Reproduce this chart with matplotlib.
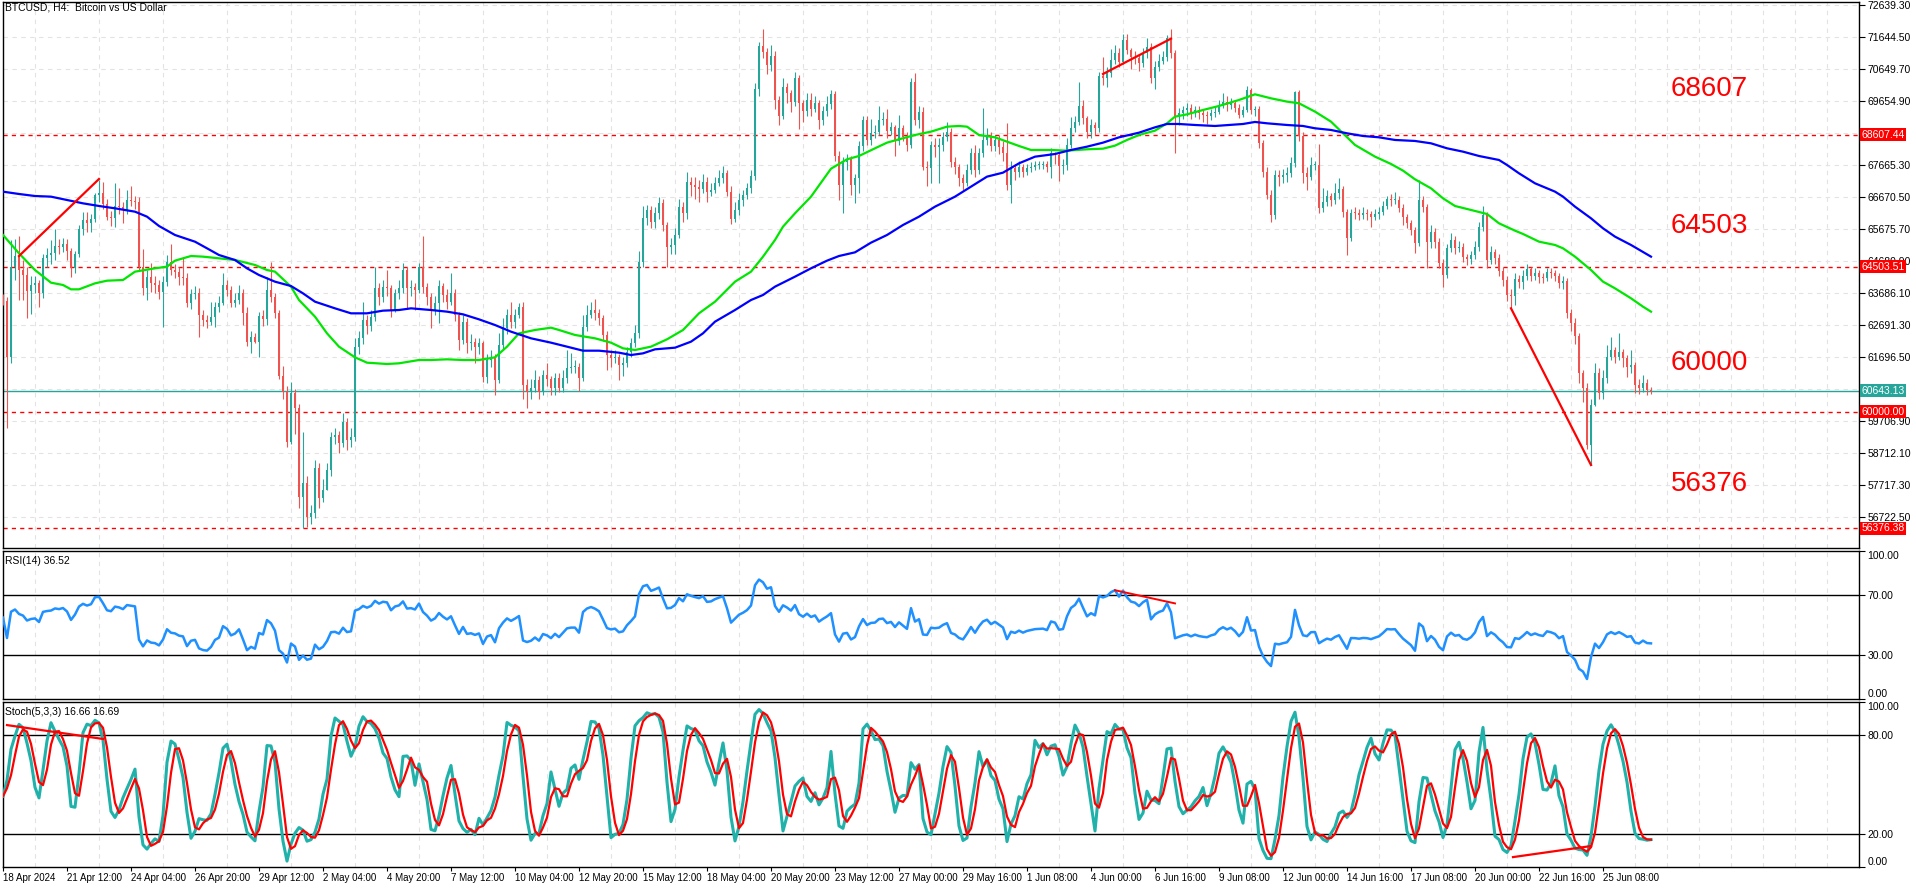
import numpy as np
import pandas as pd
import matplotlib
matplotlib.use('Agg')
import matplotlib.pyplot as plt
from matplotlib.transforms import blended_transform_factory

# ---- BTCUSD H4 candles (18 Apr 2024 .. 25 Jun 2024) ----
first_open = 63500
close = [
    63450, 61706, 64504, 64836, 64400, 64245, 63760, 63930, 63990, 63675,
    64764, 64865, 64920, 65150, 65106, 65210, 65002, 64453, 64898, 65665,
    65955, 65852, 65986, 66733, 66785, 66453, 66060, 66007, 66390, 66350,
    66266, 66577, 66546, 66520, 64504, 63830, 64194, 63986, 63935, 63727,
    64040, 64660, 64400, 64350, 64190, 64140, 63385, 63655, 63700, 63000,
    62846, 62795, 62950, 63260, 63365, 63935, 63780, 63385, 63470, 63675,
    63054, 62173, 62330, 62173, 62970, 62867, 63780, 63572, 63054, 61105,
    60618, 59064, 60567, 60100, 57355, 57770, 56732, 56836, 58235, 57302,
    57560, 58183, 59220, 59270, 59012, 59686, 59116, 59200, 62017, 62277,
    62846, 62660, 62950, 63830, 63572, 63883, 63830, 63157, 63676, 63830,
    64401, 63830, 63883, 63780, 64505, 63862, 63572, 63157, 63365, 63904,
    63624, 63416, 63696, 63002, 62225, 62795, 62121, 62173, 62018, 62121,
    61085, 61603, 61707, 60981, 62069, 62588, 63002, 62795, 63002, 63240,
    60826, 60619, 60722, 60981, 60619, 61137, 61000, 60722, 61033, 60722,
    61033, 61344, 61396, 61396, 61033, 62639, 63002, 63157, 63054, 62899,
    62381, 61759, 61655, 61707, 61448, 61500, 61862, 62121, 62432, 64660,
    66007, 66266, 65904, 66163, 66474, 65800, 65126, 65178, 65489, 66370,
    66163, 67147, 67044, 66971, 66909, 67147, 66836, 66888, 67116, 67272,
    67406, 66836, 65976, 66266, 66578, 66733, 66940, 67323, 70018, 71365,
    71189, 70774, 71054, 69686, 69189, 70080, 69893, 69634, 70360, 69582,
    69350, 69700, 69420, 69580, 69064, 69330, 69560, 69873, 67945, 67044,
    67769, 67842, 67044, 67251, 68256, 69064, 68443, 68670, 68702, 69064,
    69106, 68733, 68836, 68422, 68805, 68546, 68287, 70256, 69064, 69323,
    67614, 67562, 68287, 68235, 68287, 68546, 68702, 67769, 67614, 67251,
    67095, 67510, 68028, 67510, 68028, 68443, 68598, 68256, 68443, 68235,
    68028, 67044, 67562, 67458, 67614, 67458, 67562, 67614, 67665, 67680,
    67690, 67614, 68028, 67976, 67635, 67665, 68287, 68805, 69012, 69500,
    69116, 68702, 68909, 68805, 70432, 70360, 70515, 70930, 71158, 70878,
    71551, 71240, 71033, 70982, 70826, 71137, 71344, 70360, 70722, 70909,
    71013, 71603, 71137, 69168, 69272, 69375, 69427, 69272, 69375, 69272,
    69220, 69190, 69272, 69323, 69531, 69634, 69531, 69600, 69450, 69220,
    69376, 69997, 69376, 69396, 68339, 67459, 66733, 66111, 67355, 67282,
    67355, 67407, 67717, 69946, 68568, 67407, 67300, 67666, 67680, 66319,
    66526, 66702, 66578, 66785, 66909, 66215, 65386, 66184, 66170, 66111,
    66163, 66142, 66059, 66142, 66215, 66391, 66598, 66578, 66590, 66319,
    66059, 65852, 65645, 65251, 66578, 66371, 65282, 65593, 65282, 64609,
    64246, 65075, 65334, 65075, 65120, 64816, 64733, 64868, 65127, 65749,
    66111, 64712, 64971, 64764, 64381, 64091, 63624, 63600, 64111, 64039,
    64215, 64422, 64215, 64298, 64194, 64142, 64350, 64298, 64215, 63990,
    64069, 63054, 62743, 62349, 61189, 60723, 58950, 60205, 61189, 60567,
    61033, 61707, 61914, 61707, 61862, 61655, 61396, 61448, 60826, 60723,
    60898, 60671, 60643,
]
high = [
    63650, 63550, 65330, 65350, 65458, 64700, 64500, 64200, 64200, 64100,
    64890, 65100, 65333, 65676, 65380, 65400, 65354, 65100, 65000, 65800,
    66215, 66215, 66150, 66800, 67199, 67147, 66600, 66250, 67095, 66940,
    66500, 66888, 67013, 66700, 66680, 65044, 64400, 64630, 64200, 64100,
    64200, 64867, 65210, 64600, 64500, 64791, 64300, 63800, 63900, 63850,
    63150, 63000, 63416, 63400, 63600, 64297, 64100, 63900, 63700, 63935,
    63800, 63260, 62500, 62450, 63100, 63150, 64193, 64640, 63700, 63157,
    61417, 60800, 60930, 60700, 60235, 59374, 58000, 57100, 58494, 58400,
    57900, 58400, 59374, 59500, 59400, 59945, 59800, 59500, 62300, 62500,
    63400, 63000, 63150, 64505, 64000, 64100, 64400, 63950, 63800, 64100,
    64610, 64500, 64100, 64000, 64610, 65458, 64000, 63700, 63600, 64100,
    64000, 63800, 64297, 63800, 63100, 63000, 62900, 62400, 62300, 62300,
    62200, 61800, 61900, 61800, 62432, 62900, 63200, 63416, 63200, 63380,
    63416, 61000, 61000, 61290, 61100, 61300, 61500, 61100, 61200, 61200,
    61300, 61900, 61810, 61600, 61500, 63000, 63300, 63416, 63500, 63200,
    63000, 62500, 61900, 61900, 61800, 61700, 62000, 62300, 62700, 65000,
    66400, 66420, 66400, 66350, 66680, 66600, 65900, 65400, 65700, 66600,
    66500, 67458, 67300, 67300, 67200, 67400, 67300, 67100, 67300, 67500,
    67634, 67500, 67000, 66500, 66800, 66900, 67100, 67500, 70200, 71500,
    71883, 71300, 71400, 71200, 69800, 70360, 70200, 70000, 70567, 70450,
    69700, 69900, 69900, 69800, 69700, 69500, 69800, 70000, 69976, 68100,
    67900, 68000, 67950, 67400, 68400, 69189, 69200, 69100, 68900, 69500,
    69300, 69400, 69000, 68900, 69220, 68900, 68700, 70360, 70515, 69500,
    69479, 67800, 68400, 68500, 68500, 68700, 69000, 68800, 67900, 67700,
    67400, 67700, 68200, 68300, 68200, 69427, 68800, 68700, 68600, 68600,
    68400, 68961, 67800, 67700, 67800, 67700, 67700, 67750, 67800, 67800,
    67800, 67800, 68200, 68080, 68050, 67850, 68500, 69147, 69200, 70256,
    69686, 69200, 69100, 69000, 70550, 71013, 70700, 71261, 71400, 71300,
    71727, 71738, 71300, 71200, 71100, 71300, 71603, 71450, 70900, 71100,
    71200, 71700, 71883, 71250, 69450, 69500, 69600, 69550, 69500, 69500,
    69400, 69350, 69400, 69500, 69700, 69900, 69800, 69750, 69700, 69550,
    69500, 70122, 70049, 69500, 69500, 68450, 67600, 66900, 67500, 67500,
    67550, 67600, 67900, 69977, 70000, 68700, 67600, 67925, 67800, 68319,
    66940, 66900, 66800, 67096, 67251, 67000, 66300, 66300, 66350, 66300,
    66350, 66300, 66250, 66300, 66350, 66550, 66702, 66750, 66836, 66700,
    66450, 66150, 65950, 65750, 67200, 66700, 66450, 65800, 65700, 65400,
    64750, 65200, 65541, 65450, 65300, 65250, 64900, 65000, 65300, 65900,
    66391, 66215, 65150, 65050, 64900, 64500, 64200, 63800, 64300, 64250,
    64400, 64600, 64500, 64450, 64400, 64300, 64454, 64450, 64400, 64300,
    64200, 64150, 63200, 62900, 62450, 61300, 60900, 60400, 61500, 61344,
    61300, 62069, 62330, 62000, 62432, 61950, 61750, 61914, 61550, 61000,
    61137, 61000, 60750,
]
low = [
    63300, 59478, 61500, 64100, 63468, 63470, 62900, 63020, 63700, 63240,
    63520, 64500, 64600, 64700, 64900, 64950, 64713, 64195, 64300, 64800,
    65500, 65593, 65593, 65900, 66500, 66300, 65955, 65770, 65748, 66150,
    65872, 66150, 66400, 66300, 64400, 63624, 63470, 63727, 63700, 63500,
    62640, 63900, 64250, 64150, 63950, 63950, 63240, 63190, 63500, 62308,
    62650, 62598, 62700, 62640, 63100, 63300, 63600, 63240, 63250, 63350,
    62691, 62050, 61830, 62120, 61685, 62650, 62700, 63400, 62900, 61000,
    60400, 58900, 59000, 59300, 57000, 56370, 56400, 56500, 56700, 57000,
    57200, 57600, 58000, 59000, 58700, 58900, 58805, 58900, 59100, 61800,
    62100, 62400, 62500, 62800, 63300, 63400, 63600, 62950, 63100, 63500,
    63700, 63200, 63600, 63150, 63700, 63700, 63300, 62588, 63000, 62743,
    63400, 63200, 63300, 62800, 61900, 62100, 61810, 61900, 61500, 61800,
    60930, 60900, 61400, 60500, 60900, 61900, 62400, 62600, 62600, 62900,
    60400, 60100, 60400, 60600, 60400, 60500, 60800, 60500, 60500, 60600,
    60600, 60900, 61200, 61200, 60640, 60950, 62500, 62900, 62850, 62700,
    62200, 61289, 61400, 61500, 60981, 61100, 61400, 61700, 62000, 62300,
    64500, 65800, 65700, 65700, 66000, 65600, 64505, 64900, 64900, 65400,
    65900, 66000, 66700, 66600, 66500, 66800, 66526, 66700, 66800, 67000,
    67100, 66700, 65830, 65900, 66100, 66400, 66600, 66800, 67200, 69800,
    71000, 70500, 70600, 69400, 68909, 69100, 69600, 69300, 69500, 68780,
    69000, 69200, 69200, 69300, 68780, 68900, 69200, 69400, 67800, 66578,
    66163, 67500, 66733, 66494, 66785, 68100, 68300, 68300, 68500, 68600,
    68900, 68500, 68600, 67945, 68300, 68400, 68100, 68200, 68900, 68800,
    67500, 67000, 67095, 67900, 67095, 68100, 68400, 67600, 67400, 67000,
    66900, 67000, 67400, 67300, 67400, 67900, 68300, 68100, 68100, 68000,
    67800, 66900, 66494, 67200, 67300, 67300, 67350, 67450, 67500, 67550,
    67550, 67450, 67251, 67700, 67180, 67400, 67500, 68200, 68700, 68900,
    68950, 68500, 68500, 68600, 68700, 70150, 70080, 70400, 70800, 70700,
    70800, 71100, 70640, 70800, 70600, 70700, 71000, 70200, 70018, 70600,
    70800, 70900, 71000, 68028, 68900, 69100, 69200, 69100, 69150, 69100,
    69000, 68950, 69050, 69150, 69250, 69450, 69350, 69400, 69300, 69117,
    69150, 69300, 69250, 69200, 68200, 67300, 66600, 65904, 66000, 67000,
    67100, 67150, 67300, 67600, 68400, 67096, 66888, 67200, 67500, 66163,
    66200, 66400, 66400, 66450, 66600, 66050, 64868, 65300, 66000, 65950,
    66000, 65950, 65749, 65950, 66000, 66100, 66300, 66400, 66450, 66200,
    65800, 65700, 65500, 64920, 65150, 66200, 64454, 65100, 65100, 64450,
    63883, 64150, 64950, 64900, 64950, 64650, 64557, 64600, 64750, 65000,
    65600, 64454, 64600, 64600, 64200, 63900, 63450, 63209, 63313, 63850,
    63800, 64100, 64050, 64100, 64000, 64000, 64050, 64150, 64050, 63850,
    63800, 62900, 62500, 62100, 60900, 60300, 58850, 58350, 60180, 60400,
    60400, 60900, 61600, 61500, 61600, 61400, 61085, 61200, 60567, 60550,
    60600, 60516, 60550,
]

# moving averages as drawn on the chart (bar index, price)
ma_green_x = [0, 4, 8, 12, 15, 17, 19, 23, 26, 30, 33, 38, 41, 43, 47, 50, 54, 58, 63, 66,
              68, 72, 74, 78, 81, 84, 88, 91, 96, 99, 104, 107, 111, 115, 119, 123, 126, 129, 133, 137,
              139, 143, 148, 152, 155, 158, 162, 166, 170, 174, 178, 183, 187, 190, 193, 195, 198, 202, 207, 211,
              214, 218, 221, 224, 228, 232, 236, 239, 241, 244, 248, 251, 254, 257, 262, 266, 271, 275, 278, 281,
              284, 288, 291, 293, 296, 300, 304, 309, 313, 317, 321, 324, 328, 332, 335, 338, 343, 347, 350, 353,
              357, 360, 363, 367, 371, 374, 378, 380, 384, 388, 390, 393, 397, 400, 403, 407, 410, 412]
ma_green_y = [65489, 64919, 64400, 64007, 63935, 63800, 63800, 63986, 64069, 64090,
              64349, 64453, 64505, 64691, 64836, 64816, 64764, 64712, 64557, 64400,
              64350, 63883, 63468, 62950, 62432, 62017, 61686, 61520, 61479, 61500,
              61603, 61603, 61624, 61603, 61603, 61686, 62018, 62432, 62536, 62608,
              62536, 62381, 62277, 62142, 61966, 61914, 62018, 62246, 62536, 63054,
              63416, 64038, 64349, 64815, 65334, 65748, 66163, 66681, 67550, 67842,
              67945, 68184, 68360, 68463, 68598, 68702, 68857, 68878, 68857, 68598,
              68525, 68391, 68256, 68132, 68132, 68111, 68153, 68173, 68267, 68443,
              68598, 68733, 68961, 69168, 69240, 69375, 69500, 69686, 69863, 69738,
              69635, 69583, 69324, 69013, 68650, 68288, 67925, 67697, 67490, 67220,
              66940, 66629, 66391, 66267, 66142, 65852, 65624, 65521, 65282, 65179,
              65075, 64816, 64401, 64039, 63831, 63521, 63261, 63106]
ma_blue_x = [0, 4, 8, 12, 16, 20, 24, 28, 33, 36, 39, 43, 48, 51, 54, 58, 61, 64, 68, 72,
             75, 78, 83, 87, 91, 95, 99, 102, 107, 111, 115, 119, 123, 127, 132, 137, 141, 145, 149, 154,
             157, 160, 163, 168, 172, 175, 178, 183, 187, 190, 193, 198, 202, 206, 209, 213, 217, 221, 225, 229,
             233, 238, 242, 246, 250, 254, 258, 263, 267, 271, 275, 279, 284, 288, 291, 294, 298, 303, 310, 313,
             316, 321, 325, 328, 332, 336, 340, 344, 348, 353, 357, 361, 365, 369, 374, 376, 379, 383, 388, 390,
             393, 397, 400, 403, 407, 412]
ma_blue_y = [66836, 66764, 66701, 66681, 66577, 66473, 66391, 66318, 66214, 66059,
             65769, 65489, 65281, 65075, 64867, 64712, 64453, 64245, 64038, 63903,
             63675, 63416, 63209, 63054, 63054, 63137, 63157, 63209, 63157, 63106,
             63023, 62867, 62691, 62484, 62277, 62142, 62018, 61893, 61893, 61831,
             61758, 61810, 61935, 61986, 62173, 62432, 62795, 63157, 63468, 63624,
             63883, 64194, 64453, 64691, 64836, 64950, 65251, 65489, 65800, 66059,
             66370, 66681, 66992, 67303, 67427, 67717, 67924, 68007, 68132, 68235,
             68360, 68525, 68670, 68836, 68940, 68940, 68909, 68878, 68940, 69003,
             68961, 68909, 68878, 68806, 68754, 68650, 68567, 68526, 68443, 68412,
             68339, 68184, 68080, 67945, 67821, 67666, 67407, 67096, 66837, 66681,
             66370, 66008, 65697, 65438, 65179, 64816]

levels = [68607.44, 64503.51, 60000.00, 56376.38]
level_names = ['68607', '64503', '60000', '56376']
last_price = 60643.13

# hand-drawn divergence lines: (bar0, value0, bar1, value1)
price_div = [(4, 64836, 24, 67230), (275, 70494, 292, 71593), (377, 63210, 397, 58339)]
rsi_div = [(278, 73.5, 293, 64.6)]
stoch_div = [(1, 86, 25, 77.6), (377.5, 6, 397, 12.7)]

price_ticks = [56722.50, 57717.30, 58712.10, 59706.90, 60701.70, 61696.50, 62691.30, 63686.10,
               64680.90, 65675.70, 66670.50, 67665.30, 68660.10, 69654.90, 70649.70, 71644.50, 72639.30]
# tick labels that sit under the level boxes on the price scale
hidden_ticks = [60701.70, 68660.10]
date_labels = ['18 Apr 2024', '21 Apr 12:00', '24 Apr 04:00', '26 Apr 20:00', '29 Apr 12:00',
               '2 May 04:00', '4 May 20:00', '7 May 12:00', '10 May 04:00', '12 May 20:00',
               '15 May 12:00', '18 May 04:00', '20 May 20:00', '23 May 12:00', '27 May 00:00',
               '29 May 16:00', '1 Jun 08:00', '4 Jun 00:00', '6 Jun 16:00', '9 Jun 08:00',
               '12 Jun 00:00', '14 Jun 16:00', '17 Jun 08:00', '20 Jun 00:00', '22 Jun 16:00',
               '25 Jun 08:00']
# RSI average gain / loss carried in from the bars before the window
rsi_seed = (238.0, 195.0)

UP, DOWN = '#26a69a', '#ef5350'

plt.rcParams['font.family'] = ['Liberation Sans', 'DejaVu Sans']
plt.rcParams['font.size'] = 7.5

W, H = 1916, 888
fig = plt.figure(figsize=(W / 100, H / 100), dpi=100)


def box(x0, y0, x1, y1):
    return [x0 / W, 1 - y1 / H, (x1 - x0) / W, (y1 - y0) / H]


ax_p = fig.add_axes(box(3, 2, 1859, 548))
ax_r = fig.add_axes(box(3, 551, 1859, 699), sharex=ax_p)
ax_s = fig.add_axes(box(3, 702, 1859, 867), sharex=ax_p)

c = np.array(close, dtype=float)
o = np.r_[first_open, c[:-1]]
hi = np.maximum(np.array(high, dtype=float), np.maximum(o, c))
lo = np.minimum(np.array(low, dtype=float), np.minimum(o, c))
x = np.arange(len(c))
cols = np.where(c >= o, UP, DOWN)

grid_kw = dict(color='#e3e3e3', linestyle=(0, (4, 4)), linewidth=0.8)

for ax in (ax_p, ax_r, ax_s):
    for s in ax.spines.values():
        s.set_color('black')
        s.set_linewidth(1)
    ax.yaxis.tick_right()
    ax.tick_params(axis='y', direction='out', length=4, pad=2, labelsize=7.5, width=0.8)
    ax.set_xlim(0, 464)
    ax.set_xticks(np.arange(0, 465, 8), minor=True)
    ax.grid(axis='x', which='minor', **grid_kw)
    ax.set_axisbelow(True)

# ---- price panel ----
ax_p.vlines(x, lo, hi, colors=cols, linewidth=0.8, zorder=3)
ax_p.bar(x, np.maximum(np.abs(c - o), 25), bottom=np.minimum(o, c), width=0.72,
         color=cols, linewidth=0, zorder=4)
ax_p.plot(ma_green_x, ma_green_y, color='#00e600', lw=1.6, zorder=5)
ax_p.plot(ma_blue_x, ma_blue_y, color='#0000ff', lw=1.6, zorder=5)
for v in levels:
    ax_p.axhline(v, color='red', lw=1, linestyle=(0, (3, 3)), zorder=2)
ax_p.axhline(last_price, color=UP, lw=1, zorder=2)
for x0, y0, x1, y1 in price_div:
    ax_p.plot([x0, x1], [y0, y1], color='red', lw=1.6, zorder=6)

ax_p.set_ylim(55759, 72732)
ax_p.set_yticks(price_ticks)
ax_p.set_yticklabels(['' if v in hidden_ticks else f'{v:.2f}' for v in price_ticks])
ax_p.grid(axis='y', **grid_kw)
ax_p.tick_params(axis='x', which='both', length=0, labelbottom=False)

trans = blended_transform_factory(ax_p.transAxes, ax_p.transData)
for v in levels:
    ax_p.text(1.0012, v, f'{v:.2f}', transform=trans, ha='left', va='center', color='white',
              fontsize=7.5, zorder=10, clip_on=False,
              bbox=dict(boxstyle='square,pad=0.15', fc='red', ec='none'))
ax_p.text(1.0012, last_price, f'{last_price:.2f}', transform=trans, ha='left', va='center',
          color='white', fontsize=7.5, zorder=10, clip_on=False,
          bbox=dict(boxstyle='square,pad=0.15', fc=UP, ec='none'))

# big level captions on the right of the price panel
for name, ypix in zip(level_names, [89, 226, 363, 484]):
    fig.text(1671 / W, 1 - ypix / H, name, color='red', fontsize=20, ha='left', va='center')

# ---- RSI(14) ----
diff = np.diff(c, prepend=c[0])
ag, al = rsi_seed
rsi = []
for d in diff:
    ag = (ag * 13 + max(d, 0)) / 14
    al = (al * 13 + max(-d, 0)) / 14
    rsi.append(100 * ag / (ag + al))
ax_r.plot(x, rsi, color='#1e90ff', lw=1.8, zorder=4)
for lvl in (70, 30):
    ax_r.axhline(lvl, color='black', lw=1, zorder=3)
for x0, y0, x1, y1 in rsi_div:
    ax_r.plot([x0, x1], [y0, y1], color='red', lw=1.4, zorder=5)
ax_r.set_ylim(0, 100)
ax_r.set_yticks([0, 30, 70, 100])
ax_r.set_yticklabels(['0.00', '30.00', '70.00', '100.00'])
labs = ax_r.get_yticklabels()
labs[0].set_va('bottom')
labs[-1].set_va('top')
ax_r.tick_params(axis='x', which='both', length=0, labelbottom=False)

# ---- Stochastic(5,3,3) ----
hs, ls, cs = pd.Series(hi), pd.Series(lo), pd.Series(c)
hh = hs.rolling(5, min_periods=1).max()
ll = ls.rolling(5, min_periods=1).min()
k = 100 * (cs - ll).rolling(3, min_periods=1).sum() / (hh - ll).rolling(3, min_periods=1).sum()
dline = k.rolling(3, min_periods=1).mean()
ax_s.plot(x, k, color='#20b2aa', lw=2.2, zorder=4)
ax_s.plot(x, dline, color='red', lw=1.6, zorder=5)
for lvl in (80, 20):
    ax_s.axhline(lvl, color='black', lw=1, zorder=3)
for x0, y0, x1, y1 in stoch_div:
    ax_s.plot([x0, x1], [y0, y1], color='red', lw=1.6, zorder=6)
ax_s.set_ylim(0, 100)
ax_s.set_yticks([0, 20, 80, 100])
ax_s.set_yticklabels(['0.00', '20.00', '80.00', '100.00'])
labs = ax_s.get_yticklabels()
labs[0].set_va('bottom')
labs[-1].set_va('top')

ax_s.set_xticks(np.arange(0, 16 * len(date_labels), 16))
ax_s.set_xticklabels(date_labels, ha='left')
ax_s.tick_params(axis='x', which='major', direction='out', length=3, pad=1, labelsize=7, width=0.8)
ax_s.tick_params(axis='x', which='minor', length=0)

# ---- panel captions ----
fig.text(5 / W, 1 - 7 / H, 'BTCUSD, H4:  Bitcoin vs US Dollar', fontsize=7.5, va='center')
fig.text(5 / W, 1 - 561 / H, 'RSI(14) 36.52', fontsize=7.5, va='center')
fig.text(5 / W, 1 - 712 / H, 'Stoch(5,3,3) 16.66 16.69', fontsize=7.5, va='center')

fig.savefig('out.png', dpi=100)
